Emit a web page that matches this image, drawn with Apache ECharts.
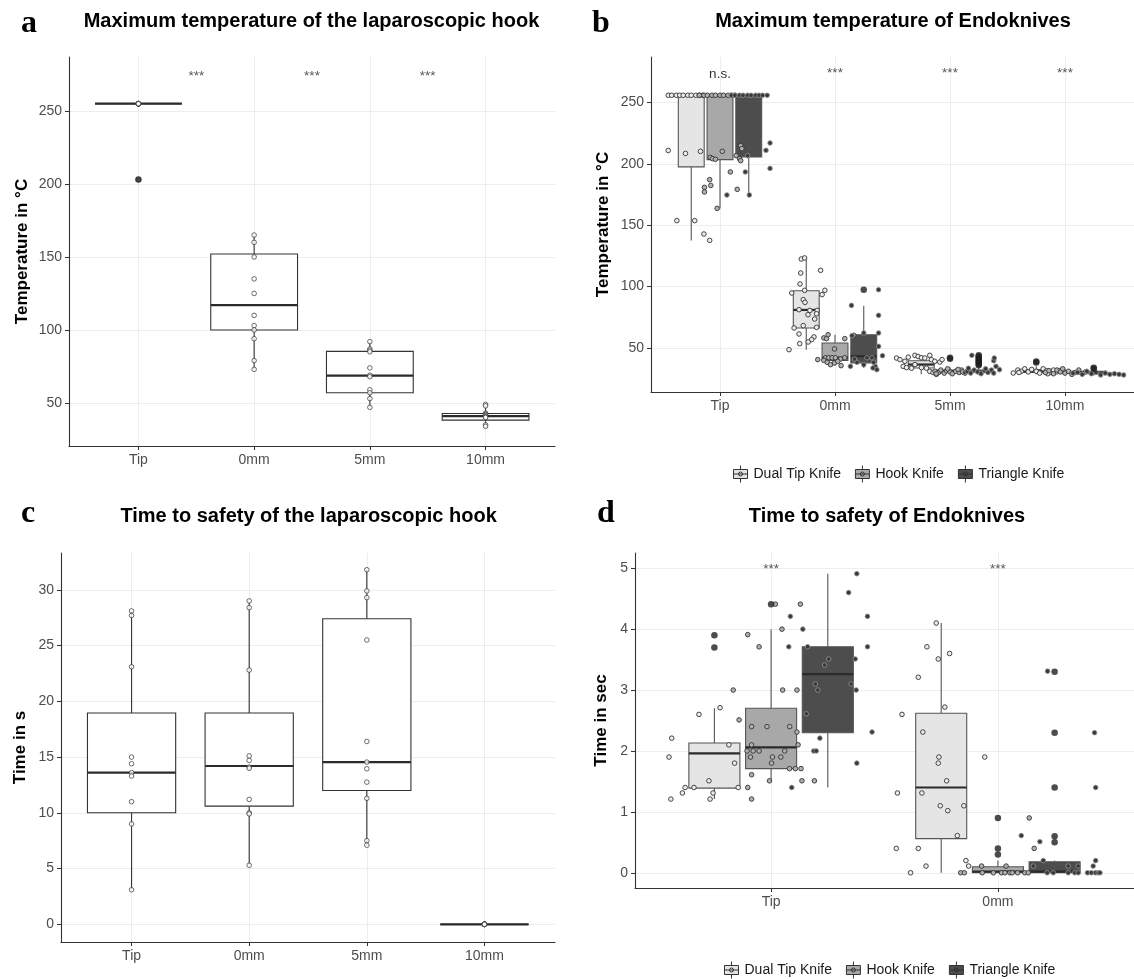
<!DOCTYPE html>
<html>
<head>
<meta charset="utf-8">
<title>Laparoscopic hook and Endoknives</title>
<script src="https://cdn.jsdelivr.net/npm/echarts@6/dist/echarts.min.js"></script>
<style>
  html, body { margin: 0; padding: 0; background: #fff; }
  #chart { width: 1134px; height: 979px; }
</style>
</head>
<body>
<div id="chart"></div>
<script>
// ---- categories ----
const hookCats = ['Tip', '0mm', '5mm', '10mm'];
const knifeTimeCats = ['Tip', '0mm'];
const knives = ['Dual Tip Knife', 'Hook Knife', 'Triangle Knife'];

// ---- a: max temperature, laparoscopic hook. box = [min, q1, median, q3, max] ----
const aBox = [[255, 255, 255, 255, 255], [72.8, 100, 117, 152, 165], [47, 57, 68.7, 85.3, 92], [34, 38.2, 41, 42.8, 49]];
const aPoints = [
  [255, 255, 255, 255, 255, 255, 255, 255, 255, 255, 203],
  [165, 160, 150, 135, 125, 110, 103, 100, 94, 79, 73],
  [92, 87, 86, 85, 74, 69, 68, 59, 57, 53, 47],
  [49, 48, 43, 42.5, 42, 41.5, 41, 40.5, 40, 35, 34]
];
const aOutliers = [[203], [], [], []];
const aSigX = [1.5, 2.5, 3.5];
const aSigY = [276, 276, 276];
const aSigText = ['***', '***', '***'];

// ---- b: max temperature, endoknives ----
const bBoxDual = [[137.7, 197.6, 256, 256, 256], [48.6, 66.3, 81, 96.7, 123], [28.5, 33.7, 36.5, 39.6, 44], [28.5, 30, 31, 32.5, 35]];
const bBoxHook = [[163.6, 203.5, 256, 256, 256], [35.6, 39.9, 42, 54.1, 60.8], [29, 30, 31, 32, 34], [28, 29.5, 30, 31, 33]];
const bBoxTri = [[174.5, 205.7, 256, 256, 256], [33.7, 37.8, 43.2, 60.8, 84.5], [28.5, 30, 31, 32, 35], [27.5, 29, 30, 31, 32]];
const bOutDual = [[], [], [], [38.2, 39]];
const bOutHook = [[], [], [41.3, 42], []];
const bOutTri = [[], [97.5], [36, 37, 38, 39, 40, 41, 42, 43, 44], [33, 33.8]];
// points: [jitter, value]
const bPtsDual = [
  [[-0.2, 256], [-0.17, 256], [-0.13, 256], [-0.1, 256], [-0.07, 256], [-0.03, 256], [0, 256], [0.04, 256], [0.07, 256], [0.1, 256],
   [-0.2, 211], [-0.05, 208.6], [0.08, 210.3], [-0.125, 153.8], [0.03, 153.8], [0.11, 142.9], [0.16, 137.7]],
  [[-0.043, 122.5], [-0.014, 123.4], [-0.048, 111.1], [-0.054, 102.2], [0.125, 113.3], [-0.014, 97], [-0.126, 94.8], [0.162, 97],
   [0.138, 93.5], [-0.026, 89.4], [-0.011, 87.2], [-0.063, 81.2], [0.032, 80.6], [0.095, 80.6], [0.015, 77.1], [0.09, 77.9],
   [0.073, 73.6], [-0.106, 66.3], [-0.026, 68.2], [0.09, 66.8], [-0.063, 61.4], [0.067, 59], [0.047, 56.8], [0.017, 54.9],
   [-0.057, 53.5], [-0.15, 48.6]],
  [[-0.215, 41.8], [-0.185, 40.5], [-0.142, 39.1], [-0.113, 42.5], [-0.055, 44], [-0.027, 43], [0.002, 42], [0.031, 41.8],
   [0.074, 44], [0.088, 40.5], [0.118, 39.1], [0.161, 38.5], [0.181, 40.5], [-0.157, 35], [-0.128, 34], [-0.085, 33.5],
   [-0.055, 36.5], [0.002, 34], [0.045, 33.5], [0.074, 30.9], [0.103, 30], [0.131, 28.5], [0.161, 30.9]],
  [[-0.2, 29.6], [-0.16, 32], [-0.13, 31], [-0.1, 33], [-0.07, 30.5], [-0.04, 32.5], [0, 31], [0.03, 29.5], [0.06, 33],
   [0.09, 31.5], [0.12, 30], [0.15, 32], [0.18, 30.5], [0.2, 31.5], [-0.15, 30], [0.1, 29]]
];
const bPtsHook = [
  [[-0.18, 256], [-0.14, 256], [-0.11, 256], [-0.07, 256], [-0.04, 256], [0, 256], [0.03, 256], [0.07, 256], [0.1, 256], [0.13, 256],
   [-0.135, 180.9], [-0.135, 177.2], [-0.09, 187.2], [-0.08, 182.5], [-0.025, 163.8], [-0.085, 205.4], [-0.065, 204.3],
   [-0.04, 203.8], [0.02, 210.3], [0.09, 193.5], [0.14, 206.8], [0.17, 204.3], [0.18, 202.7], [0.18, 214.9], [0.19, 212.5], [0.15, 179.3]],
  [[-0.097, 58.2], [-0.074, 57.6], [-0.06, 60.8], [-0.004, 49.2], [0.085, 57.6], [0.163, 60.3], [-0.082, 42], [-0.054, 42],
   [-0.025, 42], [0.004, 42], [0.048, 41], [0.085, 42], [-0.097, 39.9], [-0.068, 38.3], [-0.039, 36.4], [-0.004, 37.8],
   [0.024, 39.1], [0.053, 35.6], [-0.15, 40.5]],
  [[-0.13, 31], [-0.1, 30], [-0.08, 32], [-0.05, 29.5], [-0.03, 31.5], [0, 30.5], [0.02, 29], [0.05, 31], [0.08, 30], [0.1, 32],
   [0.13, 29.5], [0.15, 31], [-0.12, 29], [0.07, 32.5], [-0.02, 33], [0.11, 30.5]],
  [[-0.17, 30], [-0.14, 31.5], [-0.1, 29], [-0.07, 32], [-0.04, 30.5], [0, 29.5], [0.03, 31], [0.06, 28.5], [0.09, 30],
   [0.12, 32], [0.15, 29], [0.18, 30.5], [-0.02, 33]]
];
const bPtsTri = [
  [[-0.15, 256], [-0.12, 256], [-0.08, 256], [-0.05, 256], [-0.01, 256], [0.02, 256], [0.06, 256], [0.09, 256], [0.12, 256], [0.16, 256],
   [-0.19, 174.7], [-0.03, 193.5], [0.005, 174.7], [0.15, 211.1], [0.185, 217.1], [0.185, 196.4], [-0.01, 206.8]],
  [[-0.107, 84.7], [0.129, 97.5], [0.129, 76.6], [0.129, 62.2], [0, 62.2], [-0.102, 60], [0.129, 51.3], [0.163, 43.7],
   [-0.116, 35], [-0.059, 38.3], [0, 36.4], [0.028, 42], [0.071, 42], [0.086, 38.3], [0.1, 35], [0.114, 32.3], [0.08, 33.7], [-0.08, 41]],
  [[-0.12, 30], [-0.1, 31], [-0.07, 29.5], [-0.04, 32], [-0.01, 30.5], [0.02, 29], [0.05, 31.5], [0.08, 30], [0.11, 32],
   [0.13, 29.5], [0.06, 33], [-0.09, 33.5], [0.13, 39.6], [0.135, 41.8], [0.15, 35], [0.18, 32.3], [-0.06, 44]],
  [[-0.18, 29.5], [-0.14, 30], [-0.1, 28.5], [-0.06, 31], [-0.02, 29], [0.02, 30], [0.06, 28], [0.1, 29.5], [0.14, 28.5],
   [0.18, 29], [0.22, 28.5], [0.26, 28]]
];
const bSigX = [1, 2, 3, 4];
const bSigY = [272.8, 276, 276, 276];
const bSigText = ['n.s.', '***', '***', '***'];

// ---- c: time to safety, laparoscopic hook ----
const cBox = [[3.1, 10, 13.6, 18.95, 28.1], [5.35, 10.6, 14.2, 18.95, 28.95], [7.1, 12, 14.55, 27.4, 31.8], [0, 0, 0, 0, 0]];
const cPoints = [
  [28.1, 27.7, 23.1, 15, 14.4, 13.6, 13.3, 11, 9, 3.1],
  [29, 28.4, 22.8, 15.1, 14.7, 14.1, 14, 11.2, 10, 9.9, 5.3],
  [31.8, 29.9, 29.3, 25.5, 16.4, 14.55, 13.95, 12.75, 11.3, 7.5, 7.1],
  [0, 0, 0, 0, 0, 0, 0, 0, 0, 0]
];

// ---- d: time to safety, endoknives ----
const dBoxDual = [[1.21, 1.39, 1.96, 2.13, 2.70], [0, 0.56, 1.40, 2.62, 4.10]];
const dBoxHook = [[1.51, 1.71, 2.06, 2.70, 4.0], [0, 0, 0.02, 0.1, 0.2]];
const dBoxTri = [[1.40, 2.30, 3.26, 3.71, 4.91], [0, 0, 0.02, 0.18, 0.2]];
const dOutDual = [[3.9, 3.7], []];
const dOutHook = [[4.41], [0.9, 0.4, 0.3]];
const dOutTri = [[], [3.3, 2.3, 1.4, 0.6, 0.5]];
const dPtsDual = [
  [[-0.188, 2.21], [-0.2, 1.90], [-0.192, 1.21], [-0.141, 1.31], [-0.129, 1.40], [-0.09, 1.40], [-0.024, 1.51], [-0.006, 1.31],
   [-0.019, 1.21], [0.064, 2.10], [0.089, 1.80], [0.105, 1.40], [-0.068, 2.60], [0.025, 2.71]],
  [[-0.022, 4.10], [-0.063, 3.71], [0.037, 3.60], [-0.013, 3.51], [-0.101, 3.21], [0.016, 2.72], [-0.173, 2.60], [-0.081, 2.31],
   [-0.01, 1.90], [-0.013, 1.80], [0.192, 1.90], [0.024, 1.51], [-0.085, 1.31], [-0.193, 1.31], [-0.004, 1.10], [0.029, 1.02],
   [0.1, 1.10], [0.071, 0.61], [-0.198, 0.40], [-0.101, 0.40], [-0.067, 0.11], [-0.135, 0], [0.109, 0.20], [0.121, 0.11]]
];
const dPtsHook = [
  [[-0.103, 3.91], [-0.053, 3.71], [-0.141, 2.51], [-0.086, 2.40], [-0.018, 2.40], [0.082, 2.40], [-0.086, 2.10], [-0.106, 2.0],
   [-0.079, 2.0], [-0.053, 2.0], [-0.091, 1.90], [0.006, 1.90], [0.043, 1.90], [0.06, 2.0], [0.002, 1.80], [-0.086, 1.61],
   [-0.007, 1.51], [-0.086, 1.21], [0.081, 1.71], [0.107, 1.71], [0.132, 1.71], [0.114, 2.31], [0.119, 2.10], [0.136, 1.51],
   [0.191, 1.51], [0.051, 3.0], [0.114, 3.0], [0.048, 4.0], [0.129, 4.41], [0.019, 4.41], [-0.167, 3.0], [-0.103, 1.40]],
  [[-0.072, 0.11], [0.036, 0.11], [-0.069, 0], [-0.02, 0], [0.016, 0], [0.031, 0], [0.053, 0], [0.063, 0], [0.087, 0],
   [0.119, 0], [0.134, 0], [0.138, 0.90], [0.16, 0.40], [-0.164, 0], [-0.148, 0]]
];
const dPtsTri = [
  [[-0.165, 4.21], [-0.11, 4.0], [-0.172, 3.71], [-0.089, 3.71], [-0.159, 1.40], [-0.035, 2.21], [-0.062, 2.0], [-0.051, 2.0],
   [0.128, 1.80], [0.125, 3.0], [0.121, 3.51], [0.092, 4.6], [0.128, 4.91], [0.004, 3.51], [-0.014, 3.41], [-0.055, 3.10],
   [-0.044, 3.0], [0.103, 3.10], [-0.095, 2.61], [0.195, 2.31], [0.175, 3.71], [0.175, 4.21]],
  [[-0.065, 0.51], [-0.031, 3.31], [-0.05, 0.20], [-0.094, 0.11], [0.17, 0.11], [-0.147, 0.61], [-0.033, 0], [-0.006, 0],
   [0.06, 0], [0.089, 0], [0.104, 0], [0.145, 0], [0.162, 0], [0.18, 0], [0.192, 0], [0.06, 0.11], [0.104, 0.11],
   [0.176, 2.30], [0.181, 1.40], [0.181, 0.20], [0.2, 0]]
];
const dSigX = [1, 2];
const dSigY = [5.03, 5.03];
const dSigText = ['***', '***'];

// ---- styling ----
const FONT = '"Liberation Sans", Arial, sans-serif';
const boxFill = ['#e5e5e5', '#a8a8a8', '#4d4d4d'];
const ptFill = ['#ececec', '#b0b0b0', '#383838'];
const ptBorder = ['#333', '#333', '#8c8c8c'];
const dodge = [-0.25, 0, 0.25];
const BOX_ICON = 'path://M1,4L15,4L15,13L1,13Z M8,0L8,4 M8,13L8,17 M1,8.5L15,8.5 M10,8.5A2,2 0 1 1 6,8.5A2,2 0 1 1 10,8.5Z';

function boxRenderer(width, fill, stroke) {
  return function (params, api) {
    const x = api.value(0);
    const lo = api.coord([x, api.value(1)]);
    const q1 = api.coord([x, api.value(2)]);
    const md = api.coord([x, api.value(3)]);
    const q3 = api.coord([x, api.value(4)]);
    const hi = api.coord([x, api.value(5)]);
    const w = api.size([width, 0])[0];
    const left = q1[0] - w / 2;
    return {
      type: 'group',
      children: [
        { type: 'line', shape: { x1: lo[0], y1: lo[1], x2: q1[0], y2: q1[1] }, style: { stroke: stroke, lineWidth: 1.1 } },
        { type: 'line', shape: { x1: q3[0], y1: q3[1], x2: hi[0], y2: hi[1] }, style: { stroke: stroke, lineWidth: 1.1 } },
        { type: 'rect', shape: { x: left, y: q3[1], width: w, height: Math.max(q1[1] - q3[1], 0) },
          style: { fill: fill, stroke: stroke, lineWidth: 1.1 } },
        { type: 'line', shape: { x1: left, y1: md[1], x2: left + w, y2: md[1] }, style: { stroke: '#2b2b2b', lineWidth: 2.2 } }
      ]
    };
  };
}

function boxSeries(name, boxes, off, width, fill, stroke, axis) {
  return {
    type: 'custom', name: name, xAxisIndex: axis, yAxisIndex: axis, silent: true, z: 2,
    itemStyle: { color: fill },
    renderItem: boxRenderer(width, fill, stroke),
    encode: { x: 0, y: 3 },
    data: boxes.map((b, i) => [i + 1 + off].concat(b))
  };
}

function pointSeries(name, pts, off, fill, border, axis) {
  const data = [];
  pts.forEach((list, i) => list.forEach(p => data.push([i + 1 + off + p[0], p[1]])));
  return {
    type: 'scatter', name: name, xAxisIndex: axis, yAxisIndex: axis, silent: true, z: 3,
    symbol: 'circle', symbolSize: 4.6,
    itemStyle: { color: fill, borderColor: border, borderWidth: 0.9, opacity: 1 },
    data: data
  };
}

function plainPoints(values, axis) {
  const data = [];
  values.forEach((list, i) => list.forEach(v => data.push([i + 1, v])));
  return {
    type: 'scatter', xAxisIndex: axis, yAxisIndex: axis, silent: true, z: 3,
    symbol: 'circle', symbolSize: 4.6,
    itemStyle: { color: '#fff', borderColor: '#333', borderWidth: 0.9 },
    data: data
  };
}

function outlierSeries(name, outs, off, axis) {
  const data = [];
  outs.forEach((list, i) => list.forEach(v => data.push([i + 1 + off, v])));
  return {
    type: 'scatter', name: name, xAxisIndex: axis, yAxisIndex: axis, silent: true, z: 4,
    symbol: 'circle', symbolSize: 6.5,
    itemStyle: { color: '#1f1f1f' },
    data: data
  };
}

function sigSeries(xs, ys, labels, axis) {
  return {
    type: 'custom', xAxisIndex: axis, yAxisIndex: axis, silent: true, z: 5,
    data: xs.map((x, i) => [x, ys[i]]),
    renderItem: function (params, api) {
      const p = api.coord([api.value(0), api.value(1)]);
      const t = labels[params.dataIndex];
      const star = t === '***';
      return {
        type: 'text', x: p[0], y: p[1] + (star ? 3 : 0),
        style: { text: t, fill: star ? '#555' : '#333', font: '13.5px ' + FONT, align: 'center', verticalAlign: 'middle' }
      };
    }
  };
}

function xAxisFor(grid, cats, max) {
  const ticks = cats.map((c, i) => i + 1);
  return {
    type: 'value', gridIndex: grid, min: 0.4, max: max,
    axisLine: { show: true, onZero: false, lineStyle: { color: '#333', width: 1.1 } },
    axisTick: { show: true, length: 4, customValues: ticks, lineStyle: { color: '#333' } },
    axisLabel: { customValues: ticks, formatter: v => cats[Math.round(v) - 1], color: '#4d4d4d',
                 fontSize: 14, fontFamily: FONT, margin: 7 },
    splitLine: { show: true, lineStyle: { color: '#ededed', width: 1 } }
  };
}

function yAxisFor(grid, min, max, ticks, name, gap) {
  return {
    type: 'value', gridIndex: grid, min: min, max: max,
    name: name, nameLocation: 'middle', nameGap: gap, nameRotate: 90,
    nameTextStyle: { fontFamily: FONT, fontSize: 17, fontWeight: 'bold', color: '#000' },
    axisLine: { show: true, onZero: false, lineStyle: { color: '#333', width: 1.1 } },
    axisTick: { show: true, length: 4, customValues: ticks, lineStyle: { color: '#333' } },
    axisLabel: { customValues: ticks, color: '#4d4d4d', fontSize: 14, fontFamily: FONT, margin: 7 },
    splitLine: { show: true, lineStyle: { color: '#ededed', width: 1 } }
  };
}

function legendAt(left, top) {
  return {
    left: left, top: top, orient: 'horizontal', selectedMode: false,
    itemWidth: 14, itemHeight: 17, itemGap: 14,
    textStyle: { fontFamily: FONT, fontSize: 14, color: '#1a1a1a', padding: [0, 0, 0, 1] },
    data: knives.map((n, i) => ({ name: n, icon: BOX_ICON,
      itemStyle: { color: boxFill[i], borderColor: '#333', borderWidth: 1 } }))
  };
}

function label(text, x, y, font) {
  return { type: 'text', x: x, y: y, silent: true,
           style: { text: text, font: font, fill: '#000', align: 'center', verticalAlign: 'middle' } };
}

const series = [];
// a
series.push({ type: 'custom', xAxisIndex: 0, yAxisIndex: 0, silent: true, z: 2, renderItem: boxRenderer(0.75, '#fff', '#333'),
  encode: { x: 0, y: 3 }, data: aBox.map((b, i) => [i + 1].concat(b)) });
series.push(plainPoints(aPoints, 0));
series.push(outlierSeries('', aOutliers, 0, 0));
series.push(sigSeries(aSigX, aSigY, aSigText, 0));
// b
const bBoxes = [bBoxDual, bBoxHook, bBoxTri];
const bPts = [bPtsDual, bPtsHook, bPtsTri];
const bOut = [bOutDual, bOutHook, bOutTri];
knives.forEach((k, g) => {
  series.push(boxSeries(k, bBoxes[g], dodge[g], 0.225, boxFill[g], '#555', 1));
  series.push(pointSeries(k, bPts[g], dodge[g], ptFill[g], ptBorder[g], 1));
  series.push(outlierSeries(k, bOut[g], dodge[g], 1));
});
series.push(sigSeries(bSigX, bSigY, bSigText, 1));
// c
series.push({ type: 'custom', xAxisIndex: 2, yAxisIndex: 2, silent: true, z: 2, renderItem: boxRenderer(0.75, '#fff', '#333'),
  encode: { x: 0, y: 3 }, data: cBox.map((b, i) => [i + 1].concat(b)) });
series.push(plainPoints(cPoints, 2));
// d
const dBoxes = [dBoxDual, dBoxHook, dBoxTri];
const dPts = [dPtsDual, dPtsHook, dPtsTri];
const dOut = [dOutDual, dOutHook, dOutTri];
knives.forEach((k, g) => {
  series.push(boxSeries(k, dBoxes[g], dodge[g], 0.225, boxFill[g], '#555', 3));
  series.push(pointSeries(k, dPts[g], dodge[g], ptFill[g], ptBorder[g], 3));
  series.push(outlierSeries(k, dOut[g], dodge[g], 3));
});
series.push(sigSeries(dSigX, dSigY, dSigText, 3));

const chart = echarts.init(document.getElementById('chart'), null, { renderer: 'canvas' });
chart.setOption({
  animation: false,
  backgroundColor: '#fff',
  grid: [
    { left: 69, top: 57, width: 486, height: 389 },
    { left: 651, top: 57, width: 486, height: 335 },
    { left: 61, top: 553, width: 494, height: 389 },
    { left: 635, top: 553, width: 500, height: 335 }
  ],
  xAxis: [
    xAxisFor(0, hookCats, 4.6),
    xAxisFor(1, hookCats, 4.6),
    xAxisFor(2, hookCats, 4.6),
    xAxisFor(3, knifeTimeCats, 2.6)
  ],
  yAxis: [
    yAxisFor(0, 20.5, 287, [50, 100, 150, 200, 250], 'Temperature in °C', 38),
    yAxisFor(1, 14.1, 287.2, [50, 100, 150, 200, 250], 'Temperature in °C', 39),
    yAxisFor(2, -1.585, 33.3, [0, 5, 10, 15, 20, 25, 30], 'Time in s', 32),
    yAxisFor(3, -0.25, 5.25, [0, 1, 2, 3, 4, 5], 'Time in sec', 25)
  ],
  legend: [legendAt(728, 460), legendAt(719, 956)],
  graphic: [
    label('Maximum temperature of the laparoscopic hook', 311.5, 21.5, 'bold 20px ' + FONT),
    label('Maximum temperature of Endoknives', 893, 21.5, 'bold 20px ' + FONT),
    label('Time to safety of the laparoscopic hook', 308.6, 516.5, 'bold 20px ' + FONT),
    label('Time to safety of Endoknives', 887, 516.5, 'bold 20px ' + FONT),
    label('a', 29, 24, 'bold 32px "Liberation Serif", "Times New Roman", serif'),
    label('b', 601, 24, 'bold 32px "Liberation Serif", "Times New Roman", serif'),
    label('c', 28, 514, 'bold 32px "Liberation Serif", "Times New Roman", serif'),
    label('d', 606, 514, 'bold 32px "Liberation Serif", "Times New Roman", serif')
  ],
  series: series
});
</script>
</body>
</html>
